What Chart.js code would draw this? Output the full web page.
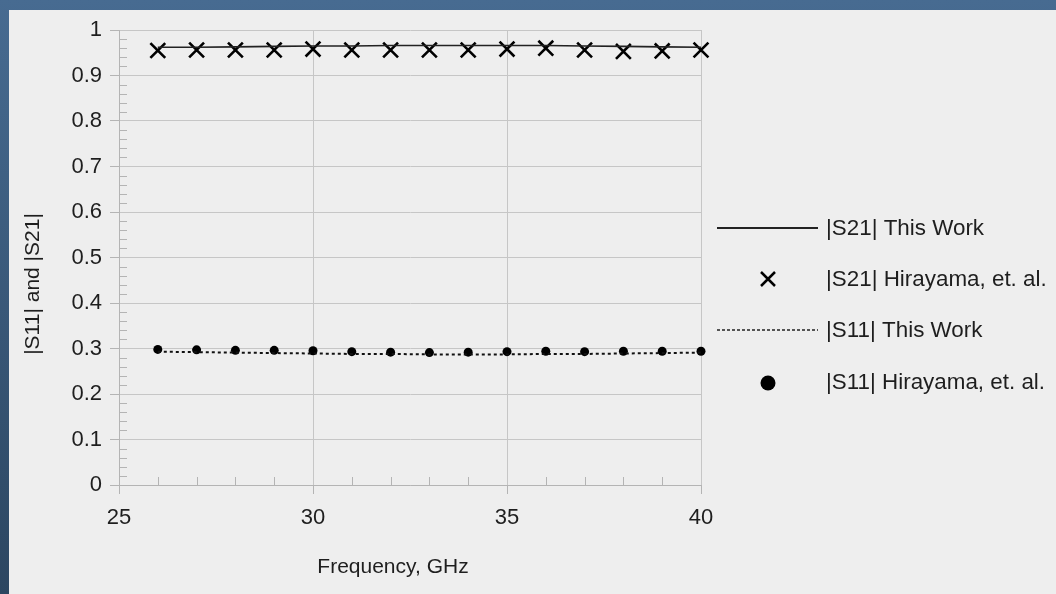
<!DOCTYPE html>
<html>
<head>
<meta charset="utf-8">
<script src="https://cdn.jsdelivr.net/npm/chart.js@4"></script>
<style>
  html, body { margin: 0; padding: 0; }
  body {
    width: 1056px; height: 594px; overflow: hidden; position: relative;
    background: linear-gradient(to bottom, #476b91, #2c4661);
  }
  #panel { position: absolute; left: 9px; top: 10px; right: 0; bottom: 0; background: #eeeeee; }
  #chart { position: absolute; left: 0; top: 0; }
</style>
</head>
<body>
<div id="panel"></div>
<canvas id="chart" width="1056" height="594"></canvas>
<script>
const frequencies = [26, 27, 28, 29, 30, 31, 32, 33, 34, 35, 36, 37, 38, 39, 40];
const s21ThisWork = [0.962, 0.962, 0.963, 0.964, 0.965, 0.965, 0.966, 0.966, 0.966, 0.966, 0.966, 0.965, 0.964, 0.963, 0.962];
const s21Hirayama = [0.955, 0.956, 0.956, 0.956, 0.958, 0.956, 0.956, 0.956, 0.956, 0.958, 0.960, 0.956, 0.953, 0.954, 0.956];
const s11ThisWork = [0.293, 0.292, 0.291, 0.290, 0.289, 0.288, 0.288, 0.287, 0.287, 0.287, 0.288, 0.288, 0.289, 0.290, 0.291];
const s11Hirayama = [0.298, 0.297, 0.296, 0.296, 0.295, 0.293, 0.292, 0.291, 0.292, 0.293, 0.294, 0.293, 0.294, 0.294, 0.294];

const seriesNames = ["|S21| This Work", "|S21| Hirayama, et. al.", "|S11| This Work", "|S11| Hirayama, et. al."];
const xTitle = "Frequency, GHz";
const yTitle = "|S11| and |S21|";

const font = '"Liberation Sans", Arial, sans-serif';
const textColor = "#1e1e1e";
const gridColor = "#c6c6c6";
const axisColor = "#b4b4b4";

const pts = (ys) => frequencies.map((f, i) => ({ x: f, y: ys[i] }));

// minor ticks, legend and axis titles
const extras = {
  id: "extras",
  beforeDatasetsDraw(chart) {
    const { ctx, scales: { x, y }, chartArea: a } = chart;
    ctx.save();
    ctx.strokeStyle = axisColor;
    ctx.lineWidth = 1;
    ctx.beginPath();
    for (let v = 26; v < 40; v++) {
      if (v % 5 === 0) continue;
      const px = Math.round(x.getPixelForValue(v)) + 0.5;
      ctx.moveTo(px, a.bottom);
      ctx.lineTo(px, a.bottom - 8);
    }
    for (let i = 1; i < 50; i++) {
      if (i % 5 === 0) continue;
      const py = Math.round(y.getPixelForValue(i * 0.02)) + 0.5;
      ctx.moveTo(a.left, py);
      ctx.lineTo(a.left + 8, py);
    }
    ctx.stroke();
    ctx.restore();
  },
  afterDraw(chart) {
    const { ctx } = chart;
    ctx.save();
    ctx.fillStyle = textColor;

    // axis titles
    ctx.font = "21px " + font;
    ctx.textAlign = "center";
    ctx.textBaseline = "middle";
    ctx.fillText(xTitle, 393, 567);
    ctx.save();
    ctx.translate(33, 284);
    ctx.rotate(-Math.PI / 2);
    ctx.fillText(yTitle, 0, 0);
    ctx.restore();

    // legend
    const rows = [228, 279, 330, 382];
    ctx.font = "22.4px " + font;
    ctx.textAlign = "left";
    rows.forEach((yy, i) => {
      ctx.fillText(seriesNames[i], 826, yy + 1);
    });
    ctx.strokeStyle = "#222";
    ctx.lineWidth = 2;
    ctx.beginPath();
    ctx.moveTo(717, rows[0]); ctx.lineTo(818, rows[0]);
    ctx.stroke();
    ctx.lineWidth = 1.5;
    ctx.setLineDash([3, 2]);
    ctx.beginPath();
    ctx.moveTo(717, rows[2]); ctx.lineTo(818, rows[2]);
    ctx.stroke();
    ctx.setLineDash([]);
    ctx.strokeStyle = "#000";
    ctx.lineWidth = 2.5;
    ctx.beginPath();
    ctx.moveTo(761, rows[1] - 7); ctx.lineTo(775, rows[1] + 7);
    ctx.moveTo(775, rows[1] - 7); ctx.lineTo(761, rows[1] + 7);
    ctx.stroke();
    ctx.fillStyle = "#000";
    ctx.beginPath();
    ctx.arc(768, rows[3] + 1, 7.5, 0, Math.PI * 2);
    ctx.fill();
    ctx.restore();
  }
};

new Chart(document.getElementById("chart"), {
  type: "line",
  data: {
    datasets: [
      {
        label: seriesNames[0],
        data: pts(s21ThisWork),
        borderColor: "#222",
        borderWidth: 1.6,
        pointRadius: 0,
        tension: 0,
      },
      {
        label: seriesNames[1],
        data: pts(s21Hirayama),
        showLine: false,
        pointStyle: "crossRot",
        pointRadius: 10.5,
        pointBorderWidth: 2.6,
        pointBorderColor: "#000",
        pointBackgroundColor: "#000",
      },
      {
        label: seriesNames[2],
        data: pts(s11ThisWork),
        borderColor: "#111",
        borderWidth: 2,
        borderDash: [3, 3],
        pointRadius: 0,
        tension: 0,
      },
      {
        label: seriesNames[3],
        data: pts(s11Hirayama),
        showLine: false,
        pointStyle: "circle",
        pointRadius: 4.5,
        pointBorderWidth: 0,
        pointBackgroundColor: "#000",
      },
    ],
  },
  options: {
    responsive: false,
    animation: false,
    clip: false,
    layout: { padding: { left: 0, top: 30, right: 355, bottom: 0 } },
    plugins: {
      legend: { display: false },
      title: { display: false },
      tooltip: { enabled: false },
    },
    scales: {
      x: {
        type: "linear",
        min: 25,
        max: 40,
        ticks: {
          stepSize: 5,
          color: textColor,
          padding: 11,
          font: { family: font, size: 22 },
        },
        grid: { color: gridColor, tickColor: axisColor, tickLength: 9 },
        border: { color: axisColor },
        afterFit(scale) { scale.height = 109; },
      },
      y: {
        min: 0,
        max: 1,
        ticks: {
          stepSize: 0.1,
          color: textColor,
          padding: 8,
          font: { family: font, size: 22 },
          callback: (value) => String(Number(value.toFixed(1))),
        },
        grid: { color: gridColor, tickColor: axisColor, tickLength: 9 },
        border: { color: axisColor },
        afterFit(scale) { scale.width = 119; },
      },
    },
  },
  plugins: [extras],
});
</script>
</body>
</html>
